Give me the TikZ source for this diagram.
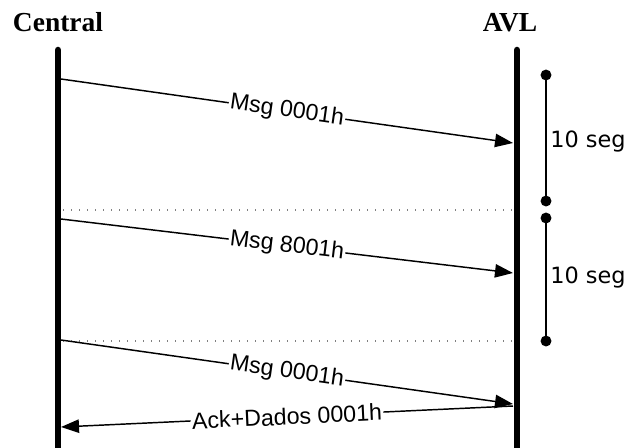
\documentclass[tikz,border=0pt]{standalone}
\usepackage{fontspec}
\setmainfont{Liberation Serif}
\newfontfamily\msgfont{Liberation Sans}
\newfontfamily\segfont{DejaVu Sans}
\usetikzlibrary{arrows.meta}
\begin{document}
\begin{tikzpicture}[x=0.75pt,y=-0.75pt,
  lifeline/.style={line width=4.9pt,line cap=round},
  msg/.style={line width=1.1pt,-{Triangle[length=13.5pt,width=10pt]}},
  msglabel/.style={font=\msgfont\fontsize{17.4}{20}\selectfont,fill=white,inner sep=1pt,sloped,pos=0.5},
  sep/.style={line width=0.8pt,gray,dash pattern=on 0.8pt off 5.2pt},
  dot/.style={circle,fill=black,inner sep=0pt,minimum size=8.2pt},
  interval/.style={line width=1pt},
  seglabel/.style={font=\segfont\fontsize{16.8}{20}\selectfont,anchor=west,inner sep=0pt},
  title/.style={font=\bfseries\fontsize{20.6}{24}\selectfont,anchor=base,inner sep=0pt}]
\useasboundingbox (0,0) rectangle (628,447);
% titles
\node[title] (tc) at (58,31) {Central};
\node[title] (ta) at (510,31) {AVL};
% lifelines
\coordinate (ctop) at (58,50);
\coordinate (cbot) at (58,452);
\coordinate (atop) at (517,50);
\coordinate (abot) at (517,452);
\draw[lifeline] (ctop) -- (cbot);
\draw[lifeline] (atop) -- (abot);
% message end points
\coordinate (m1s) at (61,79);
\coordinate (m1e) at (513,143);
\coordinate (m2s) at (61,219);
\coordinate (m2e) at (513,273);
\coordinate (m3s) at (61,340);
\coordinate (m3e) at (513,404);
\coordinate (m4s) at (513,406);
\coordinate (m4e) at (61,427);
% separators
\coordinate (s1a) at (63,210);
\coordinate (s1b) at (512,210);
\coordinate (s2a) at (63,341);
\coordinate (s2b) at (512,341);
\draw[sep] (s1a) -- (s1b);
\draw[sep] (s2a) -- (s2b);
% messages
\draw[msg] (m1s) -- node[msglabel] {Msg 0001h} (m1e);
\draw[msg] (m2s) -- node[msglabel] {Msg 8001h} (m2e);
\draw[msg] (m3s) -- node[msglabel] {Msg 0001h} (m3e);
\draw[msg] (m4s) -- node[msglabel] {Ack+Dados 0001h} (m4e);
% intervals
\node[dot] (d1) at (546,75) {};
\node[dot] (d2) at (546,201) {};
\node[dot] (d3) at (546,218) {};
\node[dot] (d4) at (546,341) {};
\draw[interval] (d1.center) -- (d2.center);
\draw[interval] (d3.center) -- (d4.center);
\node[seglabel] (l1) at (550,141.5) {10 seg};
\node[seglabel] (l2) at (550,278) {10 seg};
\end{tikzpicture}
\end{document}
